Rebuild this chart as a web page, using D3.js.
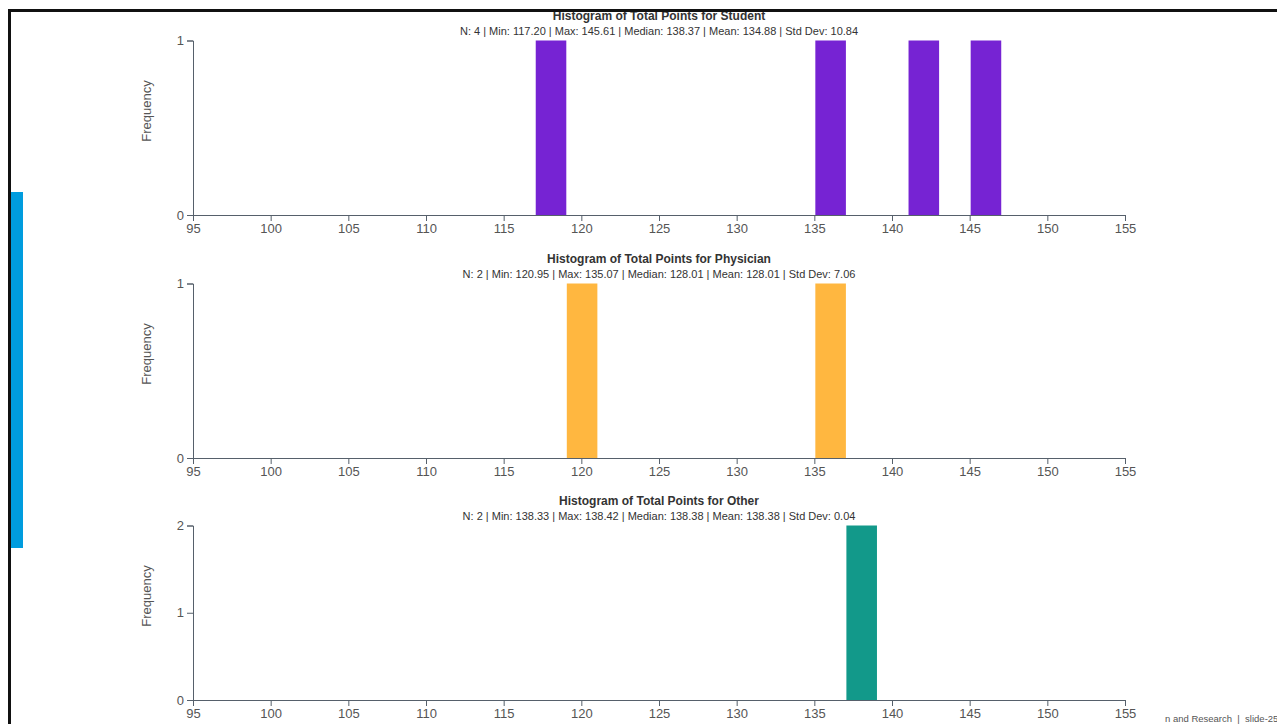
<!DOCTYPE html>
<html>
<head>
<meta charset="utf-8">
<script src="https://cdn.jsdelivr.net/npm/d3@7"></script>
<style>
  html, body { margin: 0; padding: 0; background: #fff; overflow: hidden; }
  svg { display: block; font-family: "Liberation Sans", Arial, sans-serif; }
</style>
</head>
<body>
<svg id="chart" width="1277" height="724"></svg>
<script>
// ---- Data ----
const groups = ["Student", "Physician", "Other"];
const studentPoints = [117.20, 135.37, 141.37, 145.61];
const physicianPoints = [120.95, 135.07];
const otherPoints = [138.33, 138.42];
const groupColors = ["#7623d3", "#ffb740", "#12998a"];
const statLines = [
  "N: 4 | Min: 117.20 | Max: 145.61 | Median: 138.37 | Mean: 134.88 | Std Dev: 10.84",
  "N: 2 | Min: 120.95 | Max: 135.07 | Median: 128.01 | Mean: 128.01 | Std Dev: 7.06",
  "N: 2 | Min: 138.33 | Max: 138.42 | Median: 138.38 | Mean: 138.38 | Std Dev: 0.04"
];
const xTicks = [95, 100, 105, 110, 115, 120, 125, 130, 135, 140, 145, 150, 155];
const xDomain = [95, 155];
const binWidth = 2;
const footerText = "n and Research  |  slide-25";

const seriesValues = [studentPoints, physicianPoints, otherPoints];

const svg = d3.select("#chart");
const left = 193, right = 1125;
const x = d3.scaleLinear().domain(xDomain).range([left, right]);
const thresholds = d3.range(xDomain[0], xDomain[1] + binWidth, binWidth);

const baseY = [215, 458, 700];
const plotH = 174.5;

groups.forEach((g, i) => {
  const vals = seriesValues[i];
  const bins = d3.bin().domain(xDomain).thresholds(thresholds)(vals);
  const maxCount = d3.max(bins, b => b.length);
  const y0 = baseY[i];
  const y = d3.scaleLinear().domain([0, maxCount]).range([y0, y0 - plotH]);

  const gEl = svg.append("g");

  gEl.append("g")
    .selectAll("rect")
    .data(bins.filter(b => b.length > 0))
    .join("rect")
    .attr("x", d => x(d.x0) + 1)
    .attr("width", d => Math.max(0, x(d.x1) - x(d.x0) - 0.5))
    .attr("y", d => y(d.length))
    .attr("height", d => y(0) - y(d.length))
    .attr("fill", groupColors[i]);

  const xAxis = gEl.append("g")
    .attr("transform", `translate(0,${y0})`)
    .call(d3.axisBottom(x).tickValues(xTicks).tickFormat(d3.format("d")));
  const yAxis = gEl.append("g")
    .attr("transform", `translate(${left},0)`)
    .call(d3.axisLeft(y).ticks(maxCount).tickFormat(d3.format("d")));

  [xAxis, yAxis].forEach(a => {
    a.selectAll("path, line").attr("stroke", "#56606b");
    a.selectAll("text").attr("fill", "#555").style("font-size", "13px")
      .style("font-family", "'Liberation Sans', Arial, sans-serif");
  });

  gEl.append("text")
    .attr("transform", `translate(151,${y0 - 104}) rotate(-90)`)
    .attr("text-anchor", "middle")
    .attr("fill", "#555")
    .style("font-size", "13px")
    .text("Frequency");

  const cx = (left + right) / 2;
  gEl.append("text")
    .attr("x", cx).attr("y", y0 - 195)
    .attr("text-anchor", "middle")
    .attr("fill", "#333")
    .style("font-size", "12px")
    .style("font-weight", "bold")
    .text(`Histogram of Total Points for ${g}`);
  gEl.append("text")
    .attr("x", cx).attr("y", y0 - 180)
    .attr("text-anchor", "middle")
    .attr("fill", "#333")
    .style("font-size", "11px")
    .text(statLines[i]);
});

// slide decorations
svg.append("rect")
  .attr("x", 11).attr("y", 192).attr("width", 12).attr("height", 356)
  .attr("fill", "#009cde");
svg.append("path")
  .attr("d", "M9.5,730 V10.5 H1290")
  .attr("fill", "none").attr("stroke", "#111").attr("stroke-width", 3);
svg.append("text")
  .attr("x", 1165).attr("y", 722)
  .attr("fill", "#555")
  .style("font-size", "9.5px")
  .attr("xml:space", "preserve")
  .text(footerText);
</script>
</body>
</html>
